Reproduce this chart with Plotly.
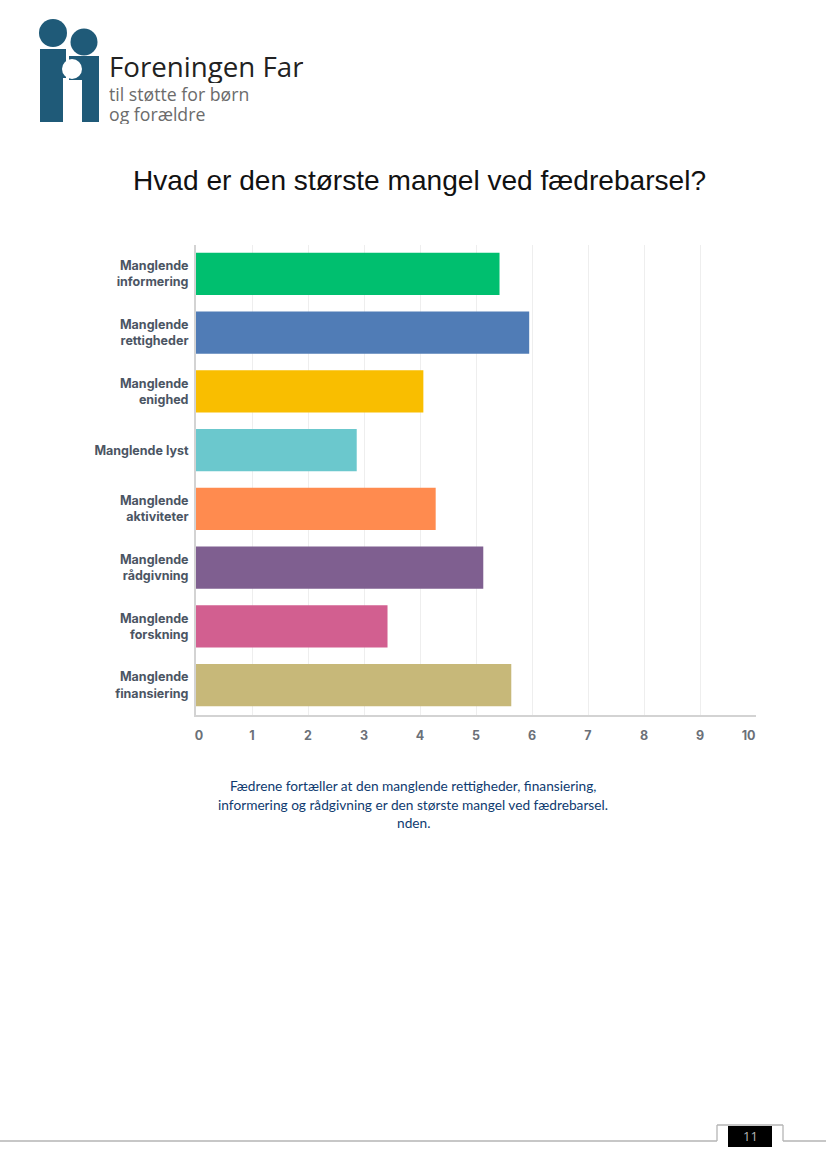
import plotly.graph_objects as go

W, H = 826, 1170
categories = ["Manglende<br>informering", "Manglende<br>rettigheder", "Manglende<br>enighed",
              "Manglende lyst", "Manglende<br>aktiviteter", "Manglende<br>rådgivning",
              "Manglende<br>forskning", "Manglende<br>finansiering"]
values = [5.42, 5.95, 4.06, 2.87, 4.28, 5.13, 3.42, 5.63]
colors = ["#00BF6F", "#507CB6", "#F9BE00", "#6BC8CD", "#FF8B4F", "#7F5F90", "#D25F90", "#C7B879"]
x_ticks = list(range(11))
x_labels = ["\u00a0\u00a00", "1", "2", "3", "4", "5", "6", "7", "8", "9", "10\u00a0\u00a0\u00a0\u00a0\u00a0"]
title = "Hvad er den største mangel ved fædrebarsel?"
caption = ["Fædrene fortæller at den manglende rettigheder, finansiering,",
           "informering og rådgivning er den største mangel ved fædrebarsel.",
           "nden."]
logo_text = [("Foreningen Far", 107, 66, 27.7, "#222222", 34),
             ("til støtte for børn", 107, 94, 17.7, "#6b6b6b", 20),
             ("og forældre", 107, 114.5, 17.7, "#6b6b6b", 20)]
page_number = "11"

def X(p): return p / W
def Y(p): return 1 - p / H

BLUE = "#1F5A78"
shapes = []
def rect(x0, y0, x1, y1, color):
    shapes.append(dict(type="rect", xref="paper", yref="paper", x0=X(x0), x1=X(x1), y0=Y(y0), y1=Y(y1),
                       fillcolor=color, line_width=0, layer="above"))
def circle(cx, cy, r, color):
    shapes.append(dict(type="circle", xref="paper", yref="paper", x0=X(cx-r), x1=X(cx+r), y0=Y(cy-r), y1=Y(cy+r),
                       fillcolor=color, line_width=0, layer="above"))

circle(53, 33, 14, BLUE)
circle(84, 42, 13.5, BLUE)
rect(40, 49, 66, 122, BLUE)
rect(69, 56, 99, 80, BLUE)
rect(82, 80, 99, 122, BLUE)
rect(63, 78, 66, 122, "white")
circle(72, 69, 10, "white")

for xs, ys in [([0, 717], [1141, 1141]), ([717, 717], [1141, 1125]), ([717, 783], [1125, 1125]),
               ([783, 783], [1125, 1141]), ([783, 826], [1141, 1141])]:
    shapes.append(dict(type="line", xref="paper", yref="paper", x0=X(xs[0]), x1=X(xs[1]), y0=Y(ys[0]), y1=Y(ys[1]),
                       line=dict(color="#b5b5b5", width=1.3)))
rect(728, 1126, 772, 1147, "black")

ann = []
for t, x, y, s, c, h in logo_text:
    ann.append(dict(text=t, x=X(x), y=Y(y), xref="paper", yref="paper", xanchor="left", yanchor="middle",
                    height=h, valign="middle", showarrow=False, font=dict(family="Open Sans", size=s, color=c)))
ann.append(dict(text=title, x=X(419.5), y=Y(180), xref="paper", yref="paper", xanchor="center", yanchor="middle",
                showarrow=False, font=dict(family="Liberation Sans", size=28.1, color="#111111")))
for i, t in enumerate(caption):
    ann.append(dict(text=t, x=X(413), y=Y(786 + 18.3 * i), xref="paper", yref="paper", xanchor="center", yanchor="middle",
                    showarrow=False, font=dict(family="Lato", size=13.7, color="#0F3B70")))
ann.append(dict(text=page_number, x=X(750), y=Y(1136), xref="paper", yref="paper", xanchor="center", yanchor="middle",
                showarrow=False, font=dict(family="Open Sans", size=13, color="#b5b5b5")))

fig = go.Figure(go.Bar(y=categories, x=values, orientation="h", marker=dict(color=colors, line_width=0),
                       hoverinfo="x+y"))
fig.update_layout(
    template="none",
    width=W, height=H, margin=dict(l=0, r=0, t=0, b=0, pad=0), plot_bgcolor="white", paper_bgcolor="white",
    bargap=0.28, showlegend=False, shapes=shapes, annotations=ann,
    xaxis=dict(domain=[X(196), X(756)], range=[0, 10], tickvals=x_ticks, ticktext=x_labels, showgrid=True,
               automargin=False,
               gridcolor="#eeeeee", gridwidth=1, zeroline=False, showline=True, linecolor="#d3d3d3", linewidth=2,
               ticks="", ticklabelstandoff=8,
               tickfont=dict(family="Inter", size=12.5, color="#6b7078", weight=700)),
    yaxis=dict(domain=[Y(714.5), Y(244.5)], autorange="reversed", showgrid=False, zeroline=False, showline=True,
               automargin=False,
               linecolor="#d3d3d3", linewidth=2, ticks="", ticklabelstandoff=3,
               tickfont=dict(family="Inter", size=12.5, color="#4b5563", weight=700)),
)
fig.write_html("out.html", config=dict(displayModeBar=False),
               post_script="document.body.style.margin='0';")
